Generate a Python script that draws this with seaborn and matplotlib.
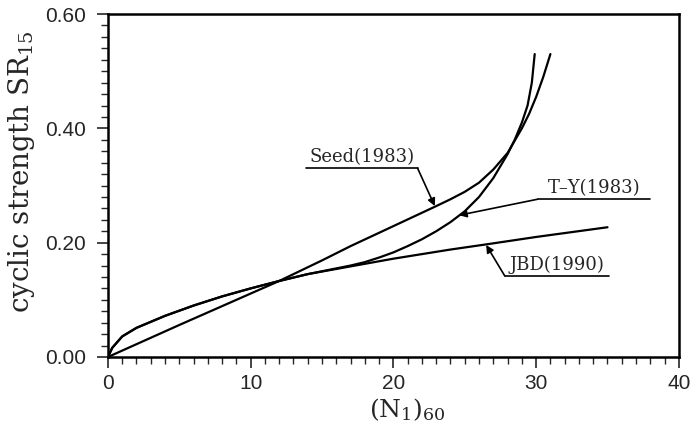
import numpy as np
import pandas as pd
import matplotlib
matplotlib.use('Agg')
import matplotlib.pyplot as plt
import seaborn as sns
from matplotlib.ticker import MultipleLocator, FormatStrFormatter

# curve data
seed_n = [0, 5, 10, 12, 15, 17, 20, 23, 24, 25, 26, 27, 28, 29, 29.5, 30, 30.5, 31]
seed_sr = [0, 0.056, 0.111, 0.133, 0.169, 0.194, 0.229, 0.264, 0.276, 0.289,
           0.305, 0.328, 0.357, 0.400, 0.425, 0.455, 0.490, 0.530]

ty_n = [0, 0.3, 1, 2, 4, 6, 8, 10, 12, 14, 16, 17, 18, 19, 20, 21, 22, 23, 24,
        25, 26, 27, 28, 28.5, 29, 29.4, 29.7, 29.9]
ty_sr = [0, 0.016, 0.036, 0.051, 0.072, 0.090, 0.106, 0.120, 0.133, 0.145, 0.155,
         0.160, 0.166, 0.174, 0.183, 0.194, 0.206, 0.220, 0.236, 0.255, 0.280,
         0.313, 0.355, 0.380, 0.410, 0.440, 0.480, 0.530]

jbd_n = [0, 0.3, 1, 2, 4, 6, 8, 10, 12, 14, 16, 18, 20, 22, 24, 26.5, 30, 35]
jbd_sr = [0, 0.016, 0.036, 0.051, 0.072, 0.090, 0.106, 0.120, 0.133, 0.145, 0.154,
          0.163, 0.172, 0.180, 0.188, 0.197, 0.210, 0.227]

labels = ['Seed(1983)', 'T\u2013Y(1983)', 'JBD(1990)']
# underline start / end, y of underline, arrow tip
label_x0 = [13.9, 30.1, 27.8]
label_x1 = [21.7, 38.0, 35.1]
label_y = [0.330, 0.276, 0.142]
tip_x = [22.9, 24.6, 26.5]
tip_y = [0.264, 0.248, 0.196]

sns.set_theme(style='ticks')
plt.rcParams['font.family'] = ['DejaVu Serif']
plt.rcParams['mathtext.fontset'] = 'dejavuserif'

fig, ax = plt.subplots(figsize=(6.92, 4.26), dpi=100)
fig.subplots_adjust(left=0.156, right=0.981, bottom=0.162, top=0.967)

for n, sr in [(seed_n, seed_sr), (ty_n, ty_sr), (jbd_n, jbd_sr)]:
    df = pd.DataFrame({'N': n, 'SR': sr})
    sns.lineplot(data=df, x='N', y='SR', sort=False, estimator=None,
                 color='black', lw=1.6, ax=ax)

for i, lab in enumerate(labels):
    ax.plot([label_x0[i], label_x1[i]], [label_y[i], label_y[i]],
            color='black', lw=1.2)
    ax.text((label_x0[i] + label_x1[i]) / 2, label_y[i] + 0.004, lab,
            ha='center', va='bottom', fontsize=13, family='DejaVu Serif')
    start_x = label_x1[i] if i == 0 else label_x0[i]
    ax.annotate('', xy=(tip_x[i], tip_y[i]), xytext=(start_x, label_y[i]),
                arrowprops=dict(arrowstyle='-|>', color='black', lw=1.2,
                                mutation_scale=11, shrinkA=0, shrinkB=0))

ax.set_xlim(0, 40)
ax.set_ylim(0, 0.6)
ax.xaxis.set_major_locator(MultipleLocator(10))
ax.xaxis.set_minor_locator(MultipleLocator(1))
ax.yaxis.set_major_locator(MultipleLocator(0.2))
ax.yaxis.set_minor_locator(MultipleLocator(0.02))
ax.yaxis.set_major_formatter(FormatStrFormatter('%.2f'))
ax.tick_params(which='major', direction='out', length=8, width=1.2,
               labelsize=15)
ax.tick_params(axis='y', which='major', pad=8)
ax.tick_params(axis='x', which='major', pad=4)
ax.tick_params(which='minor', direction='out', length=5, width=1)
for lbl in ax.get_xticklabels() + ax.get_yticklabels():
    lbl.set_family('Liberation Sans')
for sp in ax.spines.values():
    sp.set_linewidth(1.8)
    sp.set_color('black')
    sp.set_visible(True)

ax.set_xlabel(r'$\mathregular{(N_1)_{60}}$', fontsize=18)
ax.set_ylabel(r'cyclic strength SR$_{15}$', fontsize=20)
ax.xaxis.set_label_coords(0.524, -0.115)
ax.yaxis.set_label_coords(-0.125, 0.54)

fig.savefig('out.png', dpi=100)
